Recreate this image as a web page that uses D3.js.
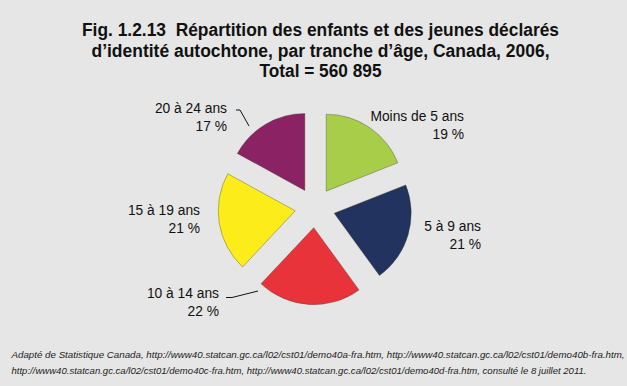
<!DOCTYPE html>
<html>
<head>
<meta charset="utf-8">
<script src="https://cdn.jsdelivr.net/npm/d3@7"></script>
<style>
  body { margin: 0; background: #e6e6e6; }
  svg { display: block; }
</style>
</head>
<body>
<div id="chart"></div>
<script>
// data
var categories = ["Moins de 5 ans", "5 à 9 ans", "10 à 14 ans", "15 à 19 ans", "20 à 24 ans"];
var percents = [19, 21, 22, 21, 17];
var colors = ["#a8cd48", "#21335e", "#e8333a", "#fcec1a", "#8b2263"];
var titleLines = [
  "Fig. 1.2.13  Répartition des enfants et des jeunes déclarés",
  "d’identité autochtone, par tranche d’âge, Canada, 2006,",
  "Total = 560 895"
];
var sourceLines = [
  "Adapté de Statistique Canada, http://www40.statcan.gc.ca/l02/cst01/demo40a-fra.htm, http://www40.statcan.gc.ca/l02/cst01/demo40b-fra.htm,",
  "http://www40.statcan.gc.ca/l02/cst01/demo40c-fra.htm, http://www40.statcan.gc.ca/l02/cst01/demo40d-fra.htm, consulté le 8 juillet 2011."
];

var width = 627;
var height = 386;
var cx = 315, cy = 207.7;
var radius = 77;
var explode = 20;

// label anchors (right end of text, first baseline)
var labelPos = [[464, 121], [481, 231], [219, 298], [200, 215], [227, 113]];
var titleWidths = [477, 458, 122];

var svg = d3.select("#chart")
  .append("svg")
  .attr("width", width)
  .attr("height", height);

svg.append("rect")
  .attr("width", width)
  .attr("height", height)
  .attr("fill", "#e6e6e6");

// title
svg.append("g")
  .selectAll("text")
  .data(titleLines)
  .enter()
  .append("text")
  .attr("x", 320.5)
  .attr("y", (d, i) => 36 + i * 20.5)
  .attr("text-anchor", "middle")
  .attr("textLength", (d, i) => titleWidths[i])
  .attr("lengthAdjust", "spacingAndGlyphs")
  .style("white-space", "pre")
  .style("font-family", "'Liberation Sans', Arial, Helvetica, sans-serif")
  .style("font-size", "18px")
  .style("font-weight", "bold")
  .style("fill", "#111")
  .text(d => d);

// pie
var pie = d3.pie().sort(null).value(d => d);
var arc = d3.arc().innerRadius(0).outerRadius(radius);
var arcs = pie(percents);

svg.append("g")
  .attr("transform", "translate(" + cx + "," + cy + ")")
  .selectAll("path")
  .data(arcs)
  .enter()
  .append("path")
  .attr("d", arc)
  .attr("transform", function (d) {
    var a = (d.startAngle + d.endAngle) / 2;
    return "translate(" + (Math.sin(a) * explode) + "," + (-Math.cos(a) * explode) + ")";
  })
  .attr("fill", (d, i) => colors[i])
  .attr("stroke", "rgba(60,60,40,0.45)")
  .attr("stroke-width", 0.8);

// labels
var labels = svg.append("g")
  .selectAll("text")
  .data(categories)
  .enter()
  .append("text")
  .attr("text-anchor", "end")
  .style("font-family", "'Liberation Sans', Arial, Helvetica, sans-serif")
  .style("font-size", "13.8px")
  .style("fill", "#111");

labels.append("tspan")
  .attr("x", (d, i) => labelPos[i][0])
  .attr("y", (d, i) => labelPos[i][1])
  .text(d => d);

labels.append("tspan")
  .attr("x", (d, i) => labelPos[i][0])
  .attr("y", (d, i) => labelPos[i][1] + 17.5)
  .text((d, i) => percents[i] + " %");

// leader lines
var leaders = [
  [[236, 110], [240, 110], [249, 126]],
  [[226, 297.5], [232, 297.5], [258, 291]]
];
svg.append("g")
  .selectAll("path")
  .data(leaders)
  .enter()
  .append("path")
  .attr("d", d3.line())
  .attr("fill", "none")
  .attr("stroke", "#111")
  .attr("stroke-width", 1);

// source
svg.append("g")
  .selectAll("text")
  .data(sourceLines)
  .enter()
  .append("text")
  .attr("x", 11.5)
  .attr("y", (d, i) => 358 + i * 16)
  .attr("textLength", (d, i) => i == 0 ? 613 : 575)
  .attr("lengthAdjust", "spacingAndGlyphs")
  .style("font-family", "'Liberation Sans', Arial, Helvetica, sans-serif")
  .style("font-size", "9.6px")
  .style("font-style", "italic")
  .style("fill", "#222")
  .text(d => d);
</script>
</body>
</html>
